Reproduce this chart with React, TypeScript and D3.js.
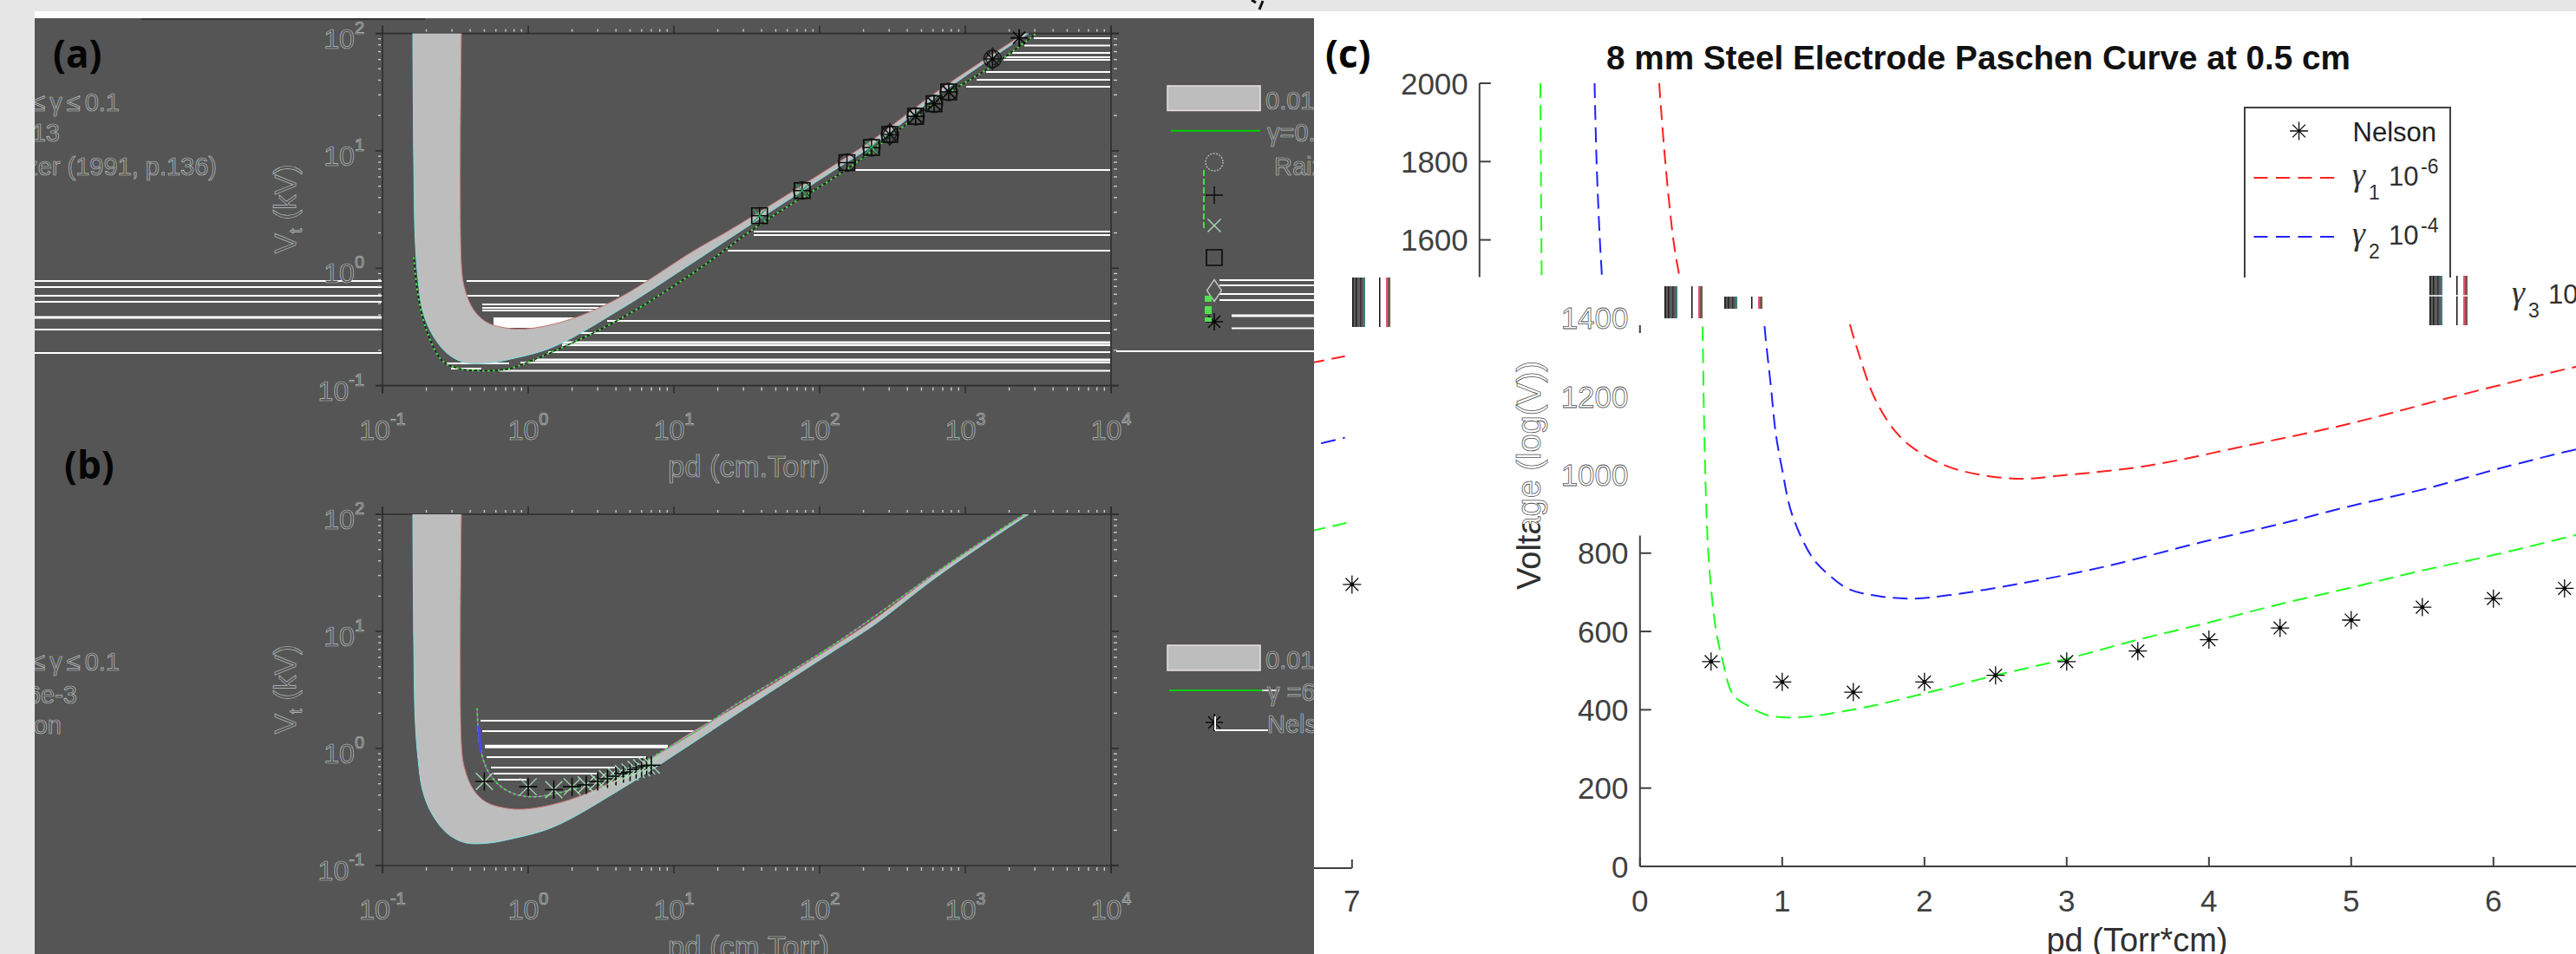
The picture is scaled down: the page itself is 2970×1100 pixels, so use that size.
import React from 'react';
import { scaleLog, scaleLinear, line, curveCatmullRom, range } from 'd3';

// ---- values ----
// shaded band 0.01 <= gamma <= 0.1 (pd in cm.Torr, Vt in kV)
const bandLowerPd = [0.1615, 0.1637, 0.1675, 0.1754, 0.188, 0.217, 0.277, 0.366, 0.518, 0.736, 1.48, 4.24, 13.7, 25.8, 124, 233, 598, 1262, 2716];
const bandLowerKv = [100, 9.23, 1.79, 0.813, 0.443, 0.28, 0.189, 0.157, 0.155, 0.167, 0.213, 0.443, 1.13, 1.9, 6.76, 11.2, 27.6, 53, 100];
const bandUpperPd = [0.348, 0.348, 0.366, 0.422, 0.518, 0.736, 1.04, 1.96, 4.24, 13.7, 25.8, 124, 233, 598, 1262, 2540];
const bandUpperKv = [100, 1.1, 0.68, 0.443, 0.347, 0.307, 0.307, 0.368, 0.563, 1.41, 2.22, 7.48, 12.5, 30.2, 56.6, 100];

// gamma = 0.013 curve in (a), gamma = 6e-3 curve in (b)
const modelAPd = [0.164, 0.175, 0.202, 0.258, 0.341, 0.518, 0.736, 1.48, 4.24, 13.7, 38.7, 154, 456, 769, 1535, 3070];
const modelAKv = [1.24, 0.6, 0.288, 0.162, 0.139, 0.134, 0.139, 0.195, 0.368, 0.92, 2.35, 7.0, 19.4, 31.2, 53, 100];
const modelBPd = [0.446, 0.468, 0.518, 0.62, 0.792, 1.117, 2.09, 3.67, 13.7, 25.8, 124, 815, 2540];
const modelBKv = [2.2, 1.035, 0.676, 0.497, 0.412, 0.387, 0.452, 0.56, 1.36, 2.31, 7.66, 39.8, 100];

// Raizer (1991, p.136)
const raizerPd = [38.7, 75.9, 154, 227, 303, 456, 610, 769, 1535, 2339];
const raizerKv = [2.8, 4.59, 7.94, 10.7, 13.8, 19.7, 25.2, 31.8, 60.7, 91.8];
const raizerMarkers = [
  ['square', 'plus', 'cross'],
  ['square', 'plus', 'circle', 'cross'],
  ['square', 'plus', 'circle'],
  ['square', 'plus', 'circle', 'cross'],
  ['circle', 'star', 'diamond', 'square'],
  ['square', 'star', 'circle'],
  ['square', 'star', 'circle'],
  ['square', 'star', 'circle'],
  ['circle', 'star', 'diamond'],
  ['plus', 'star'],
];

// Nelson, 8 mm steel electrode (V)
const nelsonPd = [0.5, 1, 1.5, 2, 2.5, 3, 3.5, 4, 4.5, 5, 5.5, 6, 6.5, 7];
const nelsonV = [523, 471, 445, 471, 488, 523, 550, 579, 609, 629, 662, 684, 710, 720];

const gamma1Pd = [1.263, 1.306, 1.363, 1.407, 1.47, 1.53, 1.645, 1.79, 1.934, 2.16, 2.41, 2.7, 2.98, 3.55, 4.26, 4.97, 5.68, 6.58, 6.73, 6.95];
const gamma1V = [2000, 1800, 1600, 1504, 1393, 1319, 1200, 1113, 1065, 1022, 999, 990, 999, 1022, 1074, 1129, 1196, 1276, 1287, 1303];
const gamma2Pd = [0.809, 0.823, 0.846, 0.861, 0.873, 0.921, 0.955, 0.998, 1.07, 1.215, 1.33, 1.47, 1.7, 1.934, 2.18, 2.7, 3.26, 3.97, 4.54, 4.97, 5.54, 6.05, 6.58, 6.73, 6.95];
const gamma2V = [2000, 1800, 1600, 1504, 1393, 1224, 1105, 1017, 898, 787, 744, 708, 689, 684, 693, 724, 765, 830, 878, 918, 966, 1017, 1065, 1076, 1095];
const gamma3Pd = [0.428, 0.437, 0.44, 0.458, 0.48, 0.507, 0.537, 0.58, 0.654, 0.77, 0.897, 1.07, 1.243, 1.645, 1.99, 2.5, 3, 3.49, 4, 4.49, 5, 5.49, 6, 6.58, 6.73, 6.96];
const gamma3V = [2000, 1504, 1393, 1017, 804, 684, 598, 527, 439, 408, 386, 380, 385, 411, 441, 488, 530, 578, 623, 669, 712, 755, 795, 846, 858, 877];

// axes
const xDecades = [0.1, 1, 10, 100, 1000, 10000];
const yDecades = [0.1, 1, 10, 100];
const minorSteps = range(2, 10);
const pdTicks = [0, 1, 2, 3, 4, 5, 6, 7];
const upperVTicks = [1600, 1800, 2000];
const middleVTicks = [1000, 1200, 1400];
const lowerVTicks = [0, 200, 400, 600, 800];

// ---- layout ----
const FONT = '"Liberation Sans", Arial, sans-serif';
const DARK = '#555555';
const OUTLINE = '#b9c0c0';
const AXIS_C = '#404040';
const SHIFT_UPPER = -185; // the top of (c) sits this far left of the rest
const WRAP = -1480; // what runs off the right edge comes back on the left

const xLog = scaleLog().domain([0.1, 10000]).range([441, 1281]);
const yLogA = scaleLog().domain([0.1, 100]).range([444.6, 38.6]);
const yLogB = scaleLog().domain([0.1, 100]).range([998, 593]);
const xC = scaleLinear().domain([0, 7]).range([1890.8, 3038.8]);
const yC = scaleLinear().domain([0, 2000]).range([999, 96]);

// scan-line artefacts across the dark panel: [y, x0, x1, thickness]
const SCAN_A = [
  [324, 40, 441, 2], [331, 40, 441, 2], [341, 40, 441, 2], [348, 40, 441, 2], [366, 40, 441, 3], [380, 40, 441, 2], [407, 40, 441, 2],
  [324, 538, 750, 2], [341, 538, 714, 2], [351, 556, 700, 2], [355, 556, 695, 2], [358, 556, 689, 2],
  [372, 569, 665, 12], [370, 700, 1280, 2], [384, 663, 1280, 2], [395, 648, 1280, 3], [398, 648, 1280, 2],
  [406, 632, 1280, 2], [415, 617, 1280, 3], [418, 600, 1280, 2], [419, 515, 587, 2], [425, 520, 555, 2], [427.5, 576, 1280, 2],
  [44, 1192, 1280, 2], [52.5, 1181, 1280, 2], [61, 1167, 1280, 2], [66, 1160, 1280, 2], [69, 1157, 1280, 2], [83, 1137, 1280, 2], [92, 1126, 1280, 2], [100, 1114, 1280, 2],
  [196, 986, 1280, 2], [267, 869, 1280, 2], [271, 869, 1280, 2], [289, 839, 1280, 2],
  [323, 1406, 1515, 2], [329, 1406, 1515, 2], [339, 1406, 1515, 2], [346, 1406, 1515, 2], [364, 1420, 1515, 3], [378.6, 1420, 1515, 2], [405, 1287, 1515, 2],
];
const SCAN_B = [
  [831, 554, 823, 2], [843, 556, 802, 2], [860.7, 559, 770, 4], [873, 561, 745, 2], [885, 566, 709, 2], [892, 569, 689, 2], [899, 574, 607, 2],
  [842, 1401, 1462, 2],
];
const BAR_GROUPS = [
  { x: 1559, y0: 320, y1: 377 },
  { x: 1919, y0: 330, y1: 367 },
  { x: 1988, y0: 342, y1: 356 },
  { x: 2801, y0: 318, y1: 375 },
];
const BAR_STRIPES = [
  { dx: 0, w: 15, color: '#5c5c5c' },
  { dx: 0, w: 1.5, color: '#111' },
  { dx: 4, w: 1.5, color: '#222' },
  { dx: 9, w: 1.5, color: '#333' },
  { dx: 13, w: 2, color: '#3f7f80' },
  { dx: 31, w: 1.5, color: '#111' },
  { dx: 39, w: 2, color: '#e0507a' },
  { dx: 41, w: 3, color: '#7a5a4a' },
];

const smooth = line().curve(curveCatmullRom.alpha(0.5));
const curveLog = (yScale, pd, kv) => smooth(pd.map((p, i) => [xLog(p), yScale(kv[i])]));
const curveC = (pd, v) => smooth(pd.map((p, i) => [xC(p), yC(v[i])]));
const bandPath = (yScale) => {
  const lower = bandLowerPd.map((p, i) => [xLog(p), yScale(bandLowerKv[i])]);
  const upper = bandUpperPd.map((p, i) => [xLog(p), yScale(bandUpperKv[i])]);
  return smooth(lower) + 'L' + smooth(upper.reverse()).slice(1) + 'Z';
};

const markerPath = {
  plus: (r) => `M${-r},0H${r}M0,${-r}V${r}`,
  cross: (r) => `M${-r * 0.75},${-r * 0.75}L${r * 0.75},${r * 0.75}M${-r * 0.75},${r * 0.75}L${r * 0.75},${-r * 0.75}`,
  square: (r) => `M${-r * 0.9},${-r * 0.9}H${r * 0.9}V${r * 0.9}H${-r * 0.9}Z`,
  diamond: (r) => `M0,${-r * 1.25}L${r * 0.85},0L0,${r * 1.25}L${-r * 0.85},0Z`,
  star: (r) => `M${-r},0H${r}M0,${-r}V${r}M${-r * 0.7},${-r * 0.7}L${r * 0.7},${r * 0.7}M${-r * 0.7},${r * 0.7}L${r * 0.7},${-r * 0.7}`,
};
const markerColor = { circle: '#b9c0c0', plus: '#0a0a0a', cross: '#a8dcb8', square: '#0a0a0a', diamond: '#c4c4c4', star: '#0a0a0a' };
const onBandColor = { ...markerColor, circle: '#141414', diamond: '#1c1c1c', cross: '#2fa060' };

const Marker = ({ kind, x, y, colors = markerColor }) =>
  kind === 'circle' ? (
    <circle cx={x} cy={y} r={10} fill="none" stroke={colors.circle} strokeWidth={1.3} strokeDasharray={colors === markerColor ? '2 1.5' : undefined} />
  ) : (
    <path d={markerPath[kind](10)} transform={`translate(${x},${y})`} fill="none" stroke={colors[kind]} strokeWidth={kind === 'star' || kind === 'square' ? 1.6 : 1.4} />
  );

const Ghost = ({ children, ...rest }) => (
  <text fontFamily={FONT} fill={DARK} stroke={OUTLINE} strokeWidth={0.7} {...rest}>
    {children}
  </text>
);

const LogLabel = ({ value, x, y, anchor }) => (
  <Ghost x={x} y={y} fontSize={32} textAnchor={anchor}>
    10
    <tspan fontSize={20} dy={-17}>
      {Math.round(Math.log10(value))}
    </tspan>
  </Ghost>
);

const LogPanel = ({ yScale, ylabelY, xlabelY }) => {
  const [top, bottom] = [yScale(100), yScale(0.1)];
  const [left, right] = [xLog(0.1), xLog(10000)];
  return (
    <g>
      {xDecades.slice(0, -1).flatMap((d) =>
        minorSteps.map((s) => (
          <g key={`x${d * s}`} stroke="#c8c8c8" strokeWidth={1.4}>
            <line x1={xLog(d * s)} x2={xLog(d * s)} y1={top - 2} y2={top - 5} />
            <line x1={xLog(d * s)} x2={xLog(d * s)} y1={bottom + 2} y2={bottom + 6} />
          </g>
        ))
      )}
      {yDecades.slice(0, -1).flatMap((d) =>
        minorSteps.map((s) => (
          <g key={`y${d * s}`} stroke="#c8c8c8" strokeWidth={1.4}>
            <line x1={left - 2} x2={left - 5} y1={yScale(d * s)} y2={yScale(d * s)} />
            <line x1={right + 3} x2={right + 7} y1={yScale(d * s)} y2={yScale(d * s)} />
          </g>
        ))
      )}
      <g stroke="#2e2e2e" strokeWidth={1.6}>
        <line x1={left - 8} x2={right + 9} y1={top} y2={top} />
        <line x1={left - 8} x2={right + 9} y1={bottom} y2={bottom} />
        <line x1={left} x2={left} y1={top - 9} y2={bottom + 9} />
        <line x1={right} x2={right} y1={top - 9} y2={bottom + 9} />
        {xDecades.map((d) => (
          <g key={d}>
            <line x1={xLog(d)} x2={xLog(d)} y1={top} y2={top - 9} />
            <line x1={xLog(d)} x2={xLog(d)} y1={bottom} y2={bottom + 9} />
          </g>
        ))}
        {yDecades.map((d) => (
          <g key={d}>
            <line x1={left} x2={left - 8} y1={yScale(d)} y2={yScale(d)} />
            <line x1={right} x2={right + 9} y1={yScale(d)} y2={yScale(d)} />
          </g>
        ))}
      </g>
      {xDecades.map((d) => (
        <LogLabel key={d} value={d} x={xLog(d)} y={bottom + 62} anchor="middle" />
      ))}
      {yDecades.map((d) => (
        <LogLabel key={d} value={d} x={420} y={yScale(d) + 17} anchor="end" />
      ))}
      <Ghost x={863} y={xlabelY} fontSize={34.5} textAnchor="middle">
        pd (cm.Torr)
      </Ghost>
      <Ghost transform={`translate(341,${ylabelY}) rotate(-90)`} fontSize={35} textAnchor="middle">
        V
        <tspan fontSize={21} dy={7}>t</tspan>
        <tspan dy={-7}> (kV)</tspan>
      </Ghost>
    </g>
  );
};

const Band = ({ yScale }) => (
  <g>
    <path d={bandPath(yScale)} fill="#bdbdbd" />
    <path d={curveLog(yScale, bandLowerPd, bandLowerKv)} fill="none" stroke="#7fe3e3" strokeWidth={1} />
    <path d={curveLog(yScale, bandUpperPd, bandUpperKv)} fill="none" stroke="#c97070" strokeWidth={1} />
  </g>
);

const Scan = ({ rows }) => (
  <g stroke="#ffffff">
    {rows.map(([y, x0, x1, t], i) => (
      <line key={i} x1={x0} x2={x1} y1={y} y2={y} strokeWidth={t} />
    ))}
  </g>
);

const CurvesC = () => (
  <g fill="none" strokeWidth={2} strokeDasharray="17 8.5">
    <path d={curveC(gamma1Pd, gamma1V)} stroke="#ff2020" />
    <path d={curveC(gamma2Pd, gamma2V)} stroke="#2020ff" />
    <path d={curveC(gamma3Pd, gamma3V)} stroke="#20ff20" />
  </g>
);

const StarC = ({ x, y }) => (
  <g transform={`translate(${x},${y})`}>
    <path d={markerPath.star(10.5)} fill="none" stroke="#0a0a0a" strokeWidth={1.3} />
    <circle r={2.4} fill="#0a0a0a" />
  </g>
);

const GammaEntry = ({ x, y, sub, sup }) => (
  <g fill="#303030">
    <text x={x} y={y} fontFamily='"Liberation Serif", serif' fontStyle="italic" fontSize={38}>γ</text>
    <text x={x + 19} y={y + 16} fontFamily={FONT} fontSize={23}>{sub}</text>
    <text x={x + 42} y={y} fontFamily={FONT} fontSize={31}>10</text>
    {sup && <text x={x + 79} y={y - 14} fontFamily={FONT} fontSize={23}>{sup}</text>}
  </g>
);

const WrappedRange = ({ y }) => (
  <Ghost x={138} y={y} fontSize={29} textAnchor="end">
    <tspan letterSpacing={5}>≤γ≤</tspan>0.1
  </Ghost>
);

export default function App() {
  return (
    <svg width={2970} height={1100} style={{ position: 'absolute', left: 0, top: 0, display: 'block' }}>
      <defs>
        <clipPath id="darkClip"><rect x={40} y={21} width={1475} height={1079} /></clipPath>
        <clipPath id="upperClip"><rect x={1515} y={0} width={1455} height={320} /></clipPath>
        <clipPath id="lowerClip"><rect x={1515} y={368} width={1455} height={732} /></clipPath>
        <clipPath id="wrapClip"><rect x={1515} y={368} width={60} height={732} /></clipPath>
        <clipPath id="ylabelGhost"><rect x={1700} y={368} width={120} height={236} /></clipPath>
        <clipPath id="ylabelSolid"><rect x={1700} y={604} width={120} height={120} /></clipPath>
        <clipPath id="gamma3Clip"><rect x={2880} y={320} width={90} height={60} /></clipPath>
      </defs>

      <rect width={2970} height={1100} fill="#e6e6e6" />
      <rect x={40} y={13} width={2930} height={1087} fill="#ffffff" />

      {/* panels (a) and (b) */}
      <g clipPath="url(#darkClip)">
        <rect x={40} y={21} width={1475} height={1079} fill={DARK} />
        <line x1={163} x2={490} y1={22} y2={22} stroke="#2a2a2a" strokeWidth={1.5} />

        <Scan rows={SCAN_A} />
        <Scan rows={SCAN_B} />
        <LogPanel yScale={yLogA} ylabelY={241} xlabelY={550} />
        <LogPanel yScale={yLogB} ylabelY={795} xlabelY={1104} />

        <Band yScale={yLogA} />
        <path d={curveLog(yLogA, modelAPd, modelAKv)} fill="none" stroke="#1c1c1c" strokeWidth={1.4} />
        <path d={curveLog(yLogA, modelAPd, modelAKv)} fill="none" stroke="#45e045" strokeWidth={2} strokeDasharray="2.5 3.5" />
        {raizerPd.map((p, i) =>
          raizerMarkers[i].map((kind) => <Marker key={`${i}${kind}`} kind={kind} x={xLog(p)} y={yLogA(raizerKv[i])} colors={onBandColor} />)
        )}

        <Band yScale={yLogB} />
        <path d={curveLog(yLogB, modelBPd, modelBKv)} fill="none" stroke="#b060c0" strokeWidth={1.3} />
        <path d={curveLog(yLogB, modelBPd, modelBKv)} fill="none" stroke="#45e045" strokeWidth={2} strokeDasharray="2.5 3.5" />
        <line x1={552} x2={554} y1={836} y2={868} stroke="#4848ff" strokeWidth={3} />
        {nelsonPd.map((p, i) => (
          <g key={p} transform={`translate(${xLog(p)},${yLogB(nelsonV[i] / 1000)})`}>
            <path d={markerPath.cross(13)} fill="none" stroke="#a8dcb8" strokeWidth={1.3} />
            <path d={markerPath.plus(10.5)} fill="none" stroke="#0a0a0a" strokeWidth={1.6} />
          </g>
        ))}

        {/* legend of (a) */}
        <rect x={1346} y={99} width={107} height={28.5} fill="#bdbdbd" stroke="#e8e0e0" strokeWidth={1.5} />
        <Ghost x={1459} y={126} fontSize={29}>0.01</Ghost>
        <line x1={1350} x2={1453} y1={150.7} y2={150.7} stroke="#00d000" strokeWidth={2} />
        <Ghost x={1461} y={163} fontSize={29}>γ=0.013</Ghost>
        <line x1={1388} x2={1388} y1={196} y2={266} stroke="#45e045" strokeWidth={2} strokeDasharray="7 3" />
        <Marker kind="circle" x={1400} y={187} />
        <Marker kind="plus" x={1400} y={225} />
        <Marker kind="cross" x={1400} y={260} />
        <Marker kind="square" x={1400} y={297} />
        <Marker kind="diamond" x={1400} y={335} />
        <Marker kind="star" x={1400} y={371} />
        <rect x={1389} y={341} width={8} height={7} fill="#50e050" />
        <rect x={1389} y={353} width={8} height={9} fill="#50e050" />
        <rect x={1389} y={366} width={8} height={5} fill="#50e050" />
        <Ghost x={1469} y={202} fontSize={29}>Raizer (1991, p.136)</Ghost>
        <WrappedRange y={128} />
        <Ghost x={69} y={163} fontSize={29} textAnchor="end">13</Ghost>
        <Ghost x={250} y={202} fontSize={29} textAnchor="end">zer (1991, p.136)</Ghost>

        {/* legend of (b) */}
        <rect x={1346} y={744} width={107} height={29} fill="#bdbdbd" stroke="#e8e0e0" strokeWidth={1.5} />
        <Ghost x={1459} y={771} fontSize={29}>0.01</Ghost>
        <line x1={1348} x2={1455} y1={796} y2={796} stroke="#00d000" strokeWidth={2} />
        <line x1={1455} x2={1475} y1={796} y2={796} stroke="#dddddd" strokeWidth={2} />
        <Ghost x={1461} y={808} fontSize={29}>γ =6e-3</Ghost>
        <Marker kind="star" x={1400} y={833} />
        <line x1={1401} x2={1401} y1={826} y2={842} stroke="#ffffff" strokeWidth={2} />
        <Ghost x={1461} y={845} fontSize={29}>Nelson</Ghost>
        <WrappedRange y={773} />
        <Ghost x={89} y={811} fontSize={29} textAnchor="end">6e-3</Ghost>
        <Ghost x={71} y={846} fontSize={29} textAnchor="end">on</Ghost>

        <text x={61} y={78} fontFamily='"Open Sans", sans-serif' fontWeight={700} fontSize={44} fill="#050505">(a)</text>
        <text x={74} y={552} fontFamily='"Open Sans", sans-serif' fontWeight={700} fontSize={44} fill="#050505">(b)</text>
      </g>
      <path d="M1456,1L1452,11M1443,0L1448,3" fill="none" stroke="#111" strokeWidth={3} />

      {/* panel (c) */}
      <text x={1528} y={78} fontFamily='"Open Sans", sans-serif' fontWeight={700} fontSize={44} fill="#050505">(c)</text>
      <text x={1852} y={80} fontFamily={FONT} fontWeight={700} fontSize={38.7} fill="#111">
        8 mm Steel Electrode Paschen Curve at 0.5 cm
      </text>

      <g clipPath="url(#upperClip)">
        <g transform={`translate(${SHIFT_UPPER},0)`}>
          <CurvesC />
          <g stroke={AXIS_C} strokeWidth={2}>
            <line x1={xC(0)} x2={xC(0)} y1={yC(2000)} y2={yC(1505)} />
            {upperVTicks.map((v) => (
              <line key={v} x1={xC(0)} x2={xC(0) + 13} y1={yC(v)} y2={yC(v)} />
            ))}
          </g>
          {upperVTicks.map((v) => (
            <text key={v} x={xC(0) - 13} y={yC(v) + 12.5} fontFamily={FONT} fontSize={35} textAnchor="end" fill={AXIS_C}>
              {v}
            </text>
          ))}
        </g>
        {/* legend box */}
        <path d="M2588,320V124H2825V320" fill="none" stroke={AXIS_C} strokeWidth={2} />
        <g transform="translate(2650.6,151)">
          <path d={markerPath.star(10.5)} fill="none" stroke="#0a0a0a" strokeWidth={1.3} />
        </g>
        <text x={2712.5} y={163} fontFamily={FONT} fontSize={31} fill="#202020">Nelson</text>
        <line x1={2598.5} x2={2696} y1={205} y2={205} stroke="#ff2020" strokeWidth={2} strokeDasharray="16 9.5" />
        <line x1={2598.5} x2={2696} y1={273} y2={273} stroke="#2020ff" strokeWidth={2} strokeDasharray="16 9.5" />
        <GammaEntry x={2712} y={214} sub="1" sup="-6" />
        <GammaEntry x={2712} y={282} sub="2" sup="-4" />
      </g>

      <g clipPath="url(#gamma3Clip)">
        <GammaEntry x={2896} y={350} sub="3" sup="-2" />
      </g>

      <g clipPath="url(#lowerClip)">
        <CurvesC />
      </g>
      <g clipPath="url(#wrapClip)">
        <g transform={`translate(${WRAP},0)`}>
          <CurvesC />
        </g>
      </g>

      {nelsonPd.map((p, i) => (
        <StarC key={p} x={p === 7 ? xC(p) + WRAP : xC(p)} y={yC(nelsonV[i])} />
      ))}

      {/* broken stripes in the band between the two image slices */}
      {BAR_GROUPS.map((g) =>
        BAR_STRIPES.map((s) => (
          <rect key={`${g.x}${s.dx}`} x={g.x + s.dx} y={g.y0} width={s.w} height={g.y1 - g.y0} fill={s.color} />
        ))
      )}
      <line x1={2782} x2={2864} y1={341} y2={341} stroke="#ffffff" strokeWidth={1.5} />

      {/* lower axes of (c) */}
      <g stroke={AXIS_C} strokeWidth={2}>
        <line x1={xC(0)} x2={xC(0)} y1={yC(845)} y2={yC(0)} />
        <line x1={xC(0)} x2={3038.8} y1={yC(0)} y2={yC(0)} />
        <line x1={xC(0)} x2={xC(0)} y1={375} y2={384} />
        {lowerVTicks.map((v) => (
          <line key={v} x1={xC(0)} x2={xC(0) + 13} y1={yC(v)} y2={yC(v)} />
        ))}
        {pdTicks.slice(0, -1).map((t) => (
          <line key={t} x1={xC(t)} x2={xC(t)} y1={yC(0)} y2={yC(0) - 11} />
        ))}
        <line x1={1515} x2={xC(7) + WRAP} y1={1001} y2={1001} />
        <line x1={xC(7) + WRAP} x2={xC(7) + WRAP} y1={1001} y2={991} />
      </g>
      {lowerVTicks.map((v) => (
        <text key={v} x={1877.5} y={yC(v) + 12.5} fontFamily={FONT} fontSize={35} textAnchor="end" fill={AXIS_C}>
          {v}
        </text>
      ))}
      {middleVTicks.map((v) => (
        <text key={v} x={1877.5} y={yC(v) + 12.5} fontFamily={FONT} fontSize={35} textAnchor="end" fill="#fff" stroke="#555" strokeWidth={0.8}>
          {v}
        </text>
      ))}
      {pdTicks.map((t) => (
        <text key={t} x={t === 7 ? xC(t) + WRAP : xC(t)} y={1051} fontFamily={FONT} fontSize={35} textAnchor="middle" fill={AXIS_C}>
          {t}
        </text>
      ))}
      <text x={2464} y={1097} fontFamily={FONT} fontSize={38} textAnchor="middle" fill="#303030">pd (Torr*cm)</text>

      <g clipPath="url(#ylabelGhost)">
        <text transform="translate(1776,548) rotate(-90)" fontFamily={FONT} fontSize={38} textAnchor="middle" fill="#fff" stroke="#555" strokeWidth={0.8}>
          Voltage (log(V))
        </text>
      </g>
      <g clipPath="url(#ylabelSolid)">
        <text transform="translate(1776,548) rotate(-90)" fontFamily={FONT} fontSize={38} textAnchor="middle" fill="#303030">
          Voltage (log(V))
        </text>
      </g>
    </svg>
  );
}
